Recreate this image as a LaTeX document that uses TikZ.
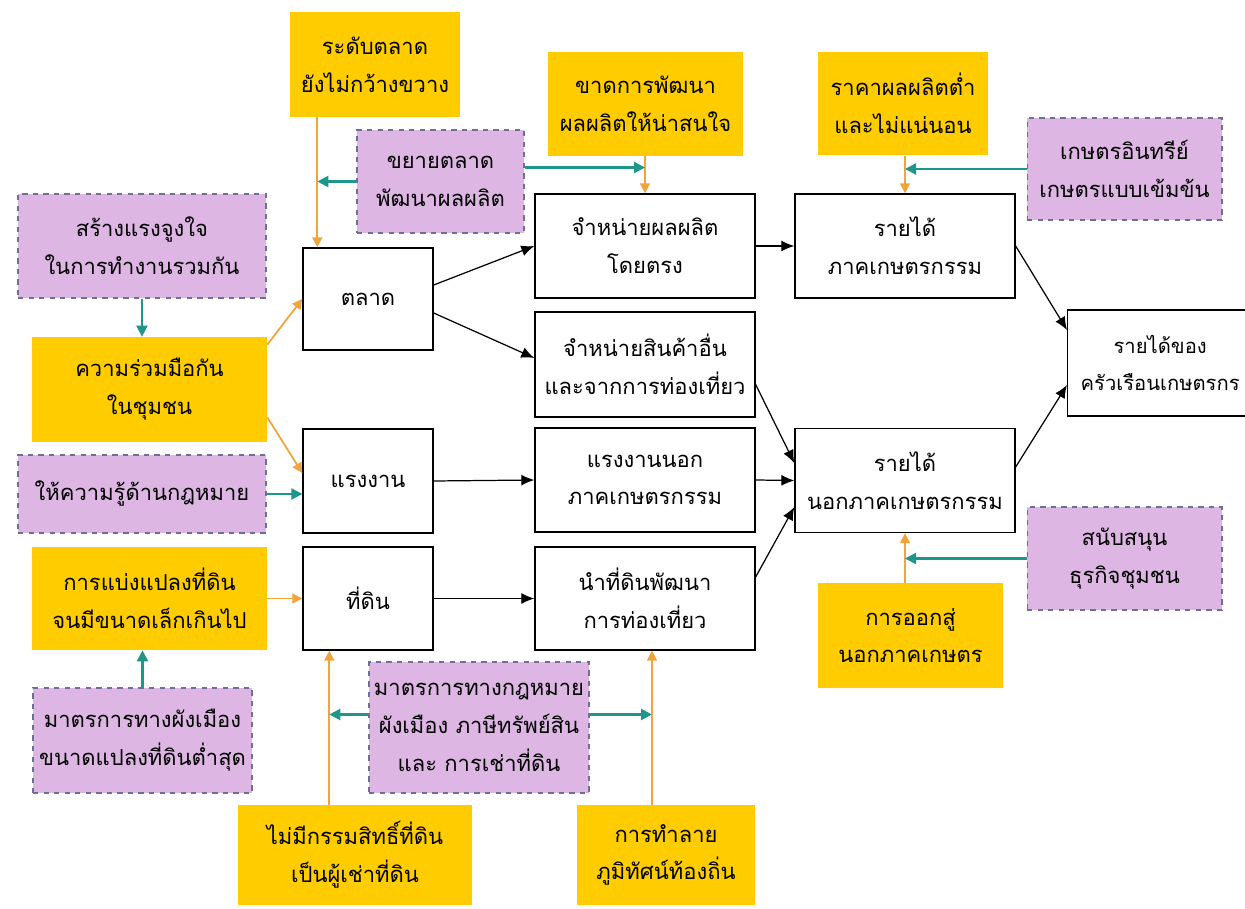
\documentclass[tikz,border=0pt]{standalone}
\usepackage{fontspec}
\setmainfont[Script=Thai]{Loma}
\usepackage{tikz}
\usetikzlibrary{arrows.meta}
\definecolor{ybox}{RGB}{255,204,0}
\definecolor{pbox}{RGB}{221,182,228}
\definecolor{pline}{RGB}{110,110,150}
\definecolor{oline}{RGB}{240,165,60}
\definecolor{tline}{RGB}{30,150,140}

\begin{document}
\begin{tikzpicture}[x=0.02cm,y=-0.02cm,
  every node/.style={font=\fontsize{12.5}{21.5}\selectfont,align=center,inner sep=2pt},
  wbox/.style={draw=black,line width=0.8pt,fill=white,minimum width=4.4cm,minimum height=2.08cm},
  sbox/.style={wbox,minimum width=2.6cm},
  ybx/.style={fill=ybox,minimum height=2.08cm},
  pbx/.style={fill=pbox,draw=pline,dashed,line width=0.6pt,minimum height=2.06cm},
  blk/.style={-{Latex[length=2.6mm,width=2.2mm]},line width=0.7pt},
  org/.style={-{Triangle[length=2mm,width=2mm]},oline,line width=1pt},
  teal/.style={-{Triangle[length=2.2mm,width=2.2mm]},tline,line width=1.2pt}]
\clip (0,0) rectangle (1245,909);
\fill[white] (0,0) rectangle (1245,909);

\node[ybx,minimum width=3.4cm,minimum height=2.1cm] (lvl) at (375,64.5) {ระดับตลาด\\ยังไม่กว้างขวาง};
\node[ybx,minimum width=3.9cm] (dev) at (645.5,104) {ขาดการพัฒนา\\ผลผลิตให้น่าสนใจ};
\node[ybx,minimum width=3.4cm] (price) at (903,103.5) {ราคาผลผลิตต่ำ\\และไม่แน่นอน};
\node[ybx,minimum width=4.7cm,minimum height=2.1cm] (coop) at (149.5,389.5) {ความร่วมมือกัน\\ในชุมชน};
\node[ybx,minimum width=4.7cm,minimum height=2.06cm] (split) at (149.5,598.5) {การแบ่งแปลงที่ดิน\\จนมีขนาดเล็กเกินไป};
\node[ybx,minimum width=4.68cm,minimum height=2cm] (tenant) at (355,855) {ไม่มีกรรมสิทธิ์ที่ดิน\\เป็นผู้เช่าที่ดิน};
\node[ybx,minimum width=3.56cm,minimum height=2cm] (ruin) at (666,855) {การทำลาย\\ภูมิทัศน์ท้องถิ่น};
\node[ybx,minimum width=3.7cm,minimum height=2.1cm] (exit) at (910.5,635.5) {การออกสู่\\นอกภาคเกษตร};

\node[pbx,minimum width=3.34cm] (expand) at (440.5,181.5) {ขยายตลาด\\พัฒนาผลผลิต};
\node[pbx,minimum width=4.96cm,minimum height=2.08cm] (motiv) at (142,246) {สร้างแรงจูงใจ\\ในการทำงานรวมกัน};
\node[pbx,minimum width=3.9cm,minimum height=2.04cm] (organic) at (1124.5,169) {เกษตรอินทรีย์\\เกษตรแบบเข้มข้น};
\node[pbx,minimum width=4.96cm,minimum height=1.56cm] (law) at (142,494) {ให้ความรู้ด้านกฎหมาย};
\node[pbx,minimum width=4.38cm,minimum height=2.1cm] (town) at (142.5,740.5) {มาตรการทางผังเมือง\\ขนาดแปลงที่ดินต่ำสุด};
\node[pbx,minimum width=4.4cm,minimum height=2.62cm] (legal) at (479,727.5) {มาตรการทางกฎหมาย\\ผังเมือง ภาษีทรัพย์สิน\\และ การเช่าที่ดิน};
\node[pbx,minimum width=3.9cm] (support) at (1124.5,558.5) {สนับสนุน\\ธุรกิจชุมชน};

\node[sbox,minimum height=2.04cm] (mkt) at (368,299) {ตลาด};
\node[sbox] (labour) at (368,481) {แรงงาน};
\node[sbox,minimum height=2.06cm] (land) at (368,598.5) {ที่ดิน};
\node[wbox] (direct) at (645,246) {จำหน่ายผลผลิต\\โดยตรง};
\node[wbox,minimum height=2.1cm] (other) at (645,364.5) {จำหน่ายสินค้าอื่น\\และจากการท่องเที่ยว};
\node[wbox] (offfarm) at (645,480) {แรงงานนอก\\ภาคเกษตรกรรม};
\node[wbox,minimum height=2.06cm] (tour) at (645,598.5) {นำที่ดินพัฒนา\\การท่องเที่ยว};
\node[wbox] (agri) at (905,246) {รายได้\\ภาคเกษตรกรรม};
\node[wbox] (nonagri) at (905,480.5) {รายได้\\นอกภาคเกษตรกรรม};
\node[wbox,anchor=west,minimum width=3.7cm,minimum height=2.12cm,font=\fontsize{11.5}{21.5}\selectfont] (hh) at (1067,363) {รายได้ของ\\ครัวเรือนเกษตรกร};

\coordinate (mktin) at ([xshift=0.3cm]mkt.north west);
\coordinate (landin) at ([xshift=0.54cm]land.south west);
\coordinate (tourin) at ([xshift=0.14cm]tour.south);

\draw[org] (lvl.south -| mktin) -- (mktin);
\draw[teal] (expand.west) -- (expand.west -| mktin);
\draw[org] (dev.south -| direct.north) -- (direct.north);
\draw[teal] ([yshift=0.28cm]expand.east) -- ([yshift=0.28cm]expand.east -| direct.north);
\draw[org] (price.south -| agri.north) -- (agri.north);
\draw[teal] (organic.west) -- (organic.west -| agri.north);
\draw[org] ([yshift=-0.16cm]coop.north east) -- (mkt.west);
\draw[org] ([yshift=0.5cm]coop.south east) -- ([yshift=0.16cm]labour.west);
\draw[teal] (motiv.south) -- (motiv.south |- coop.north);
\draw[teal] (law.east) -- (law.east -| labour.west);
\draw[org] (split.east) -- (land.west);
\draw[teal] (town.north) -- (town.north |- split.south);
\draw[org] (tenant.north -| landin) -- (landin);
\draw[teal] ([yshift=0.26cm]legal.west) -- ([yshift=0.26cm]legal.west -| landin);
\draw[teal] ([yshift=0.26cm]legal.east) -- ([yshift=0.26cm]legal.east -| tourin);
\draw[org] (ruin.north -| tourin) -- (tourin);
\draw[org] (exit.north -| nonagri.south) -- (nonagri.south);
\draw[teal] (support.west) -- (support.west -| nonagri.south);

\draw[blk] ([yshift=0.28cm]mkt.east) -- (direct.west);
\draw[blk] ([yshift=-0.28cm]mkt.east) -- ([yshift=0.13cm]other.west);
\draw[blk] (labour.east) -- (offfarm.west);
\draw[blk] (land.east) -- (tour.west);
\draw[blk] (direct.east) -- (agri.west);
\draw[blk] ([yshift=-0.4cm]other.east) -- ([yshift=0.35cm]nonagri.west);
\draw[blk] (offfarm.east) -- (nonagri.west);
\draw[blk] ([yshift=0.43cm]tour.east) -- ([yshift=-0.53cm]nonagri.west);
\draw[blk] (agri.east) -- ([yshift=0.66cm]hh.west);
\draw[blk] ([yshift=0.27cm]nonagri.east) -- ([yshift=-0.44cm]hh.west);
\end{tikzpicture}
\end{document}
